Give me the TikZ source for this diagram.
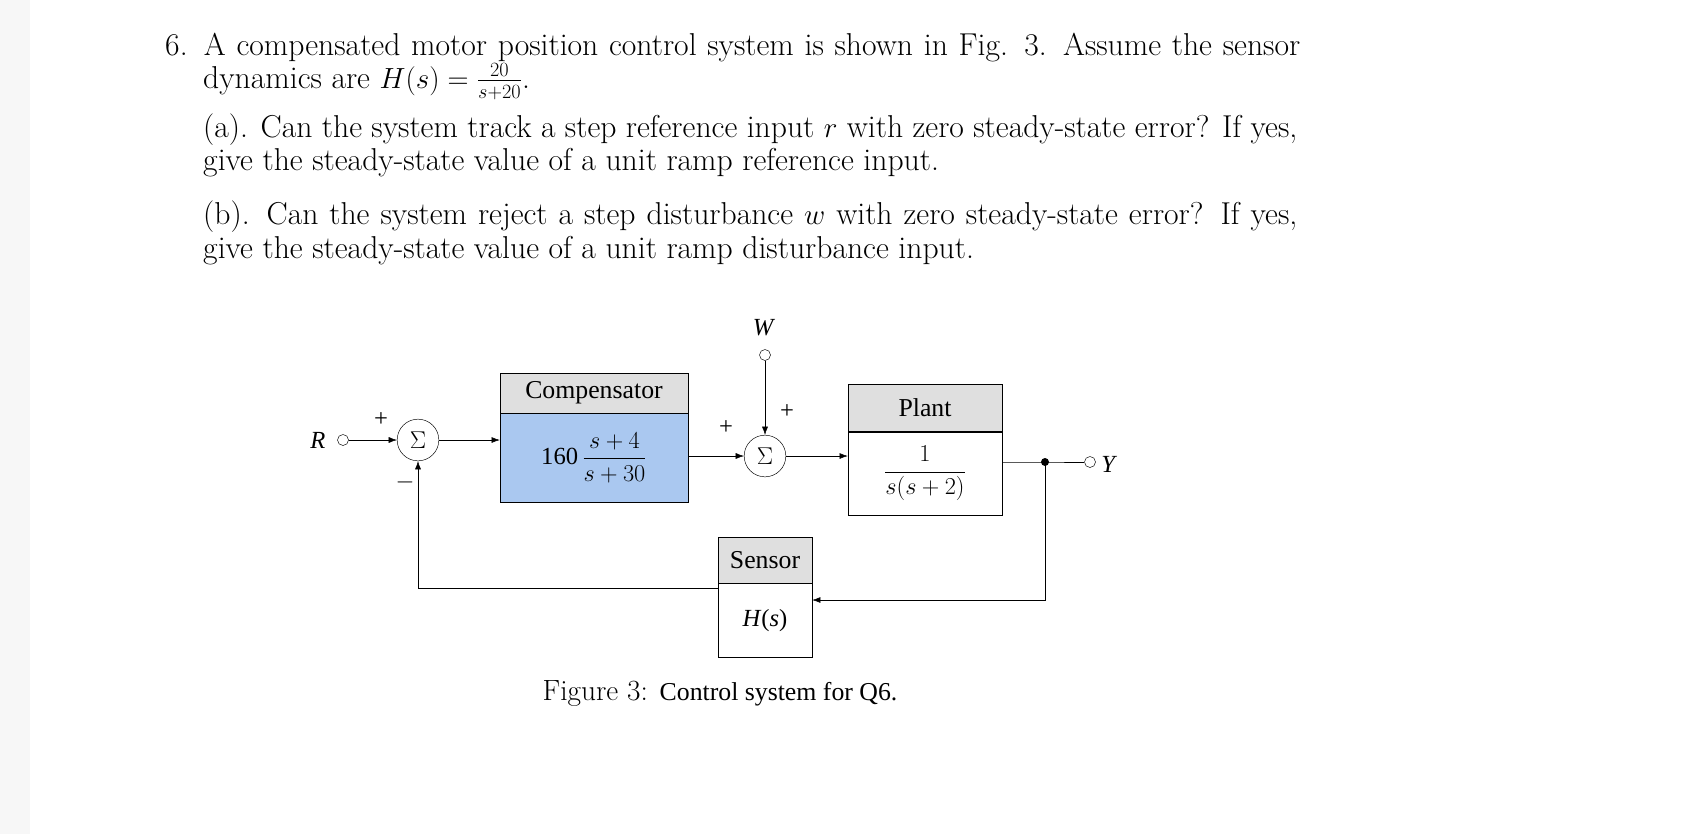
\documentclass[tikz,border=0pt]{standalone}
\usepackage{amsmath}
\usepackage{fontspec}
\newfontfamily\dfont{Liberation Serif}
\usetikzlibrary{arrows.meta}
\definecolor{compblue}{RGB}{170,200,240}
\begin{document}
\begin{tikzpicture}[x=0.03cm,y=-0.03cm,
  txt/.style={anchor=base west,inner sep=0,font=\fontsize{27}{32}\selectfont},
  lab/.style={font=\dfont\fontsize{21}{24}\selectfont,inner sep=1pt},
  hdr/.style={draw,fill=gray!25,inner sep=0},
  sumn/.style={draw,circle,minimum size=1.25cm,inner sep=0,font=\fontsize{22}{24}\selectfont},
  term/.style={draw,circle,minimum size=0.33cm,inner sep=0,fill=white},
  arr/.style={-{Latex[length=7pt,width=5pt]},thin},
  ln/.style={thin}]
\useasboundingbox[fill=gray!6] (0,0) rectangle (1701,834);
\fill[white] (30,0) rectangle (1701,834);
% text
\node[txt] (l1) at (165,55) {\makebox[34.05cm][s]{6. A compensated motor position control system is shown in Fig. 3. Assume the sensor}};
\node[txt] (l2) at (203,88) {dynamics are $H(s)=\tfrac{20}{s+20}$.};
\node[txt] (l3) at (203,137) {\makebox[32.82cm][s]{(a). Can the system track a step reference input $r$ with zero steady-state error? If yes,}};
\node[txt] (l4) at (203,170) {give the steady-state value of a unit ramp reference input.};
\node[txt] (l5) at (203,224) {\makebox[32.82cm][s]{(b). Can the system reject a step disturbance $w$ with zero steady-state error? If yes,}};
\node[txt] (l6) at (203,258) {give the steady-state value of a unit ramp disturbance input.};
% diagram
\node[lab] (W) at (764,328) {\textit{W}};
\node[term] (wt) at (765,355) {};
\node[sumn] (s2) at (765,456) {$\Sigma$};
\node[lab] at (787,412) {+};
\node[lab] at (726,428) {+};
\node[lab] (R) at (318,440) {\textit{R}};
\node[term] (rt) at (343,440) {};
\node[sumn] (s1) at (418,440) {$\Sigma$};
\node[lab] at (381,420) {+};
\node[lab] at (405,482) {$-$};
% compensator
\node[hdr,minimum width=5.64cm,minimum height=1.2cm] (ch) at (594,393) {\dfont\fontsize{22}{24}\selectfont Compensator};
\node[draw,fill=compblue,minimum width=5.64cm,minimum height=2.67cm,inner sep=0,anchor=north] (cb) at (ch.south) {\dfont\fontsize{21}{24}\selectfont 160\,$\dfrac{s+4}{s+30}$};
% plant
\node[hdr,minimum width=4.62cm,minimum height=1.41cm] (ph) at (925,408) {\dfont\fontsize{22}{24}\selectfont Plant};
\node[draw,fill=white,minimum width=4.62cm,minimum height=2.49cm,inner sep=0,anchor=north] (pb) at (ph.south) {\dfont\fontsize{21}{24}\selectfont $\dfrac{1}{s(s+2)}$};
% sensor
\node[hdr,minimum width=2.82cm,minimum height=1.38cm] (sh) at (765,560) {\dfont\fontsize{22}{24}\selectfont Sensor};
\node[draw,fill=white,minimum width=2.82cm,minimum height=2.22cm,inner sep=0,anchor=north] (sb) at (sh.south) {\dfont\fontsize{21}{24}\selectfont \textit{H}(\textit{s})};
% output
\coordinate (dot) at (1045,462);
\node[term] (yt) at (1090,462) {};
\node[lab,anchor=west] (Y) at (1100,464) {\textit{Y}};
\fill (dot) circle (0.12cm);
% connectors
\draw[arr] (rt) -- (s1);
\draw[arr] (s1) -- (cb.west|-s1);
\draw[arr] (cb.east|-s2) -- (s2);
\draw[arr] (wt) -- (s2);
\draw[arr] (s2) -- (pb.west|-s2);
\draw[ln] (pb.east|-dot) -- (dot) -- (yt);
\draw[arr] (dot) |- (sb.east|-0,600);
\draw[arr] (sh.west|-0,588) -| (s1);
\node[anchor=base,inner sep=0] (cap) at (720,700) {\fontsize{25}{30}\selectfont Figure 3: {\dfont\fontsize{22}{26}\selectfont Control system for Q6.}};
\end{tikzpicture}
\end{document}
